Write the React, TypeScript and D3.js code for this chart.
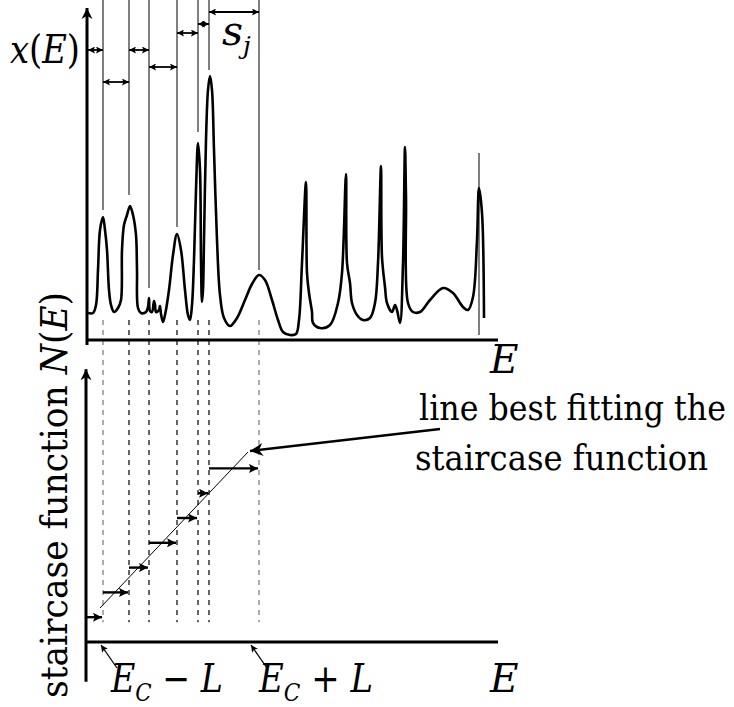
import React from "react";
import * as d3 from "d3";

// energy positions of the levels (marked by the thin lines)
const levelE = [15, 41, 61, 89, 110, 121, 171];
// where each marker line stops above its peak (intensity units)
const markStop = [130, 145, 52, 113, 208, 270, 70];
// height of the spacing arrow s_j between level j-1 and j
const spacingI = [290, 258, 290, 273, 307, 316, 328];
// lone marker on the last peak
const lastMarkE = 391;
const lastMarkI = [5, 187];

// the spectrum x(E)
const specE = [0, 5, 8, 10, 12, 15, 17, 19, 21, 23, 26, 30, 33, 34, 36, 39, 42, 45, 48, 49, 50, 53, 58, 60, 61, 62, 64, 66, 67, 68, 71, 72, 73, 75, 77, 81, 85, 89, 93, 97, 100, 102, 104, 106, 108, 110, 112, 113, 114, 115, 116, 118, 120, 122, 124, 126, 129, 132, 136, 142, 149, 157, 164, 171, 177, 184, 190, 195, 202, 208, 211, 214, 218, 219, 221, 224, 225, 232, 242, 250, 254, 258, 259, 262, 264, 269, 275, 282, 287, 290, 293, 294, 297, 299, 304, 307, 309, 312, 315, 317, 318, 320, 325, 332, 342, 355, 365, 375, 380, 385, 389, 391, 394, 396];
const specI = [27, 27, 35, 70, 110, 123, 110, 90, 50, 35, 28, 32, 40, 90, 115, 125, 134, 125, 105, 70, 32, 27, 28, 33, 42, 29, 28, 39, 35, 28, 30, 34, 26, 18, 25, 50, 85, 106, 90, 50, 25, 20, 35, 80, 150, 197, 170, 80, 38, 50, 100, 200, 250, 264, 250, 190, 100, 45, 22, 14, 22, 40, 56, 65, 60, 40, 20, 8, 5, 6, 20, 77, 158, 67, 47, 28, 17, 12, 15, 37, 67, 166, 77, 57, 37, 25, 20, 22, 37, 77, 174, 83, 53, 37, 28, 35, 30, 17, 77, 193, 143, 37, 28, 28, 40, 52, 47, 33, 30, 43, 100, 152, 127, 22];

// staircase N(E)
const stairN = [1, 2, 3, 4, 5, 6, 7];
const fitE = [12, 160];
const fitN = [1.37, 7.66];
const windowE = [13, 163]; // E_C - L, E_C + L
const calloutE = [352, 162];
const calloutN = [8.59, 7.7];

const serif = { fontFamily: "DejaVu Serif, serif" };

export default function App() {
  const x = d3.scaleLinear().domain([0, 410]).range([88, 498]);
  const yI = d3.scaleLinear().domain([0, 332]).range([340, 8]);
  const yN = d3.scaleLinear().domain([0, 10]).range([642, 394]);

  const spec = d3
    .line<number>()
    .x((_, i) => x(specE[i]))
    .y((d) => yI(d))
    .curve(d3.curveCatmullRom.alpha(0.5));

  const it = { fontStyle: "italic" as const };
  const fit = { lengthAdjust: "spacingAndGlyphs" as const };

  return (
    <svg width={734} height={707} style={{ position: "absolute", left: 0, top: 0, background: "#fff" }}>
      <defs>
        <marker id="axh" markerUnits="userSpaceOnUse" viewBox="0 0 10 10" refX="10" refY="5" markerWidth="11" markerHeight="15" orient="auto">
          <path d="M0,0 L10,5 L0,10 L3,5 z" fill="#000" />
        </marker>
        <marker id="sm" markerUnits="userSpaceOnUse" viewBox="0 0 10 10" refX="10" refY="5" markerWidth="7" markerHeight="7" orient="auto-start-reverse">
          <path d="M0,0 L10,5 L0,10 L2,5 z" fill="#000" />
        </marker>
        <marker id="st" markerUnits="userSpaceOnUse" viewBox="0 0 10 10" refX="10" refY="5" markerWidth="11" markerHeight="9" orient="auto">
          <path d="M0,0 L10,5 L0,10 L2,5 z" fill="#000" />
        </marker>
        <marker id="big" markerUnits="userSpaceOnUse" viewBox="0 0 10 10" refX="10" refY="5" markerWidth="16" markerHeight="13" orient="auto">
          <path d="M0,0 L10,5 L0,10 L3,5 z" fill="#000" />
        </marker>
        <marker id="tiny" markerUnits="userSpaceOnUse" viewBox="0 0 10 10" refX="10" refY="5" markerWidth="8" markerHeight="7" orient="auto">
          <path d="M0,0 L10,5 L0,10 L2,5 z" fill="#000" />
        </marker>
      </defs>

      {/* upper panel: marker lines */}
      {levelE.map((e, i) => (
        <line key={"m" + i} x1={x(e)} x2={x(e)} y1={yI(340)} y2={yI(markStop[i])} stroke="#000" strokeWidth={1} />
      ))}
      <line x1={x(lastMarkE)} x2={x(lastMarkE)} y1={yI(lastMarkI[1])} y2={yI(lastMarkI[0])} stroke="#000" strokeWidth={1} />

      {/* spacings s_j */}
      {levelE.map((e, i) => (
        <line
          key={"s" + i}
          x1={x(i === 0 ? 0 : levelE[i - 1])}
          x2={x(e)}
          y1={yI(spacingI[i])}
          y2={yI(spacingI[i])}
          stroke="#000"
          strokeWidth={1.8}
          markerStart="url(#sm)"
          markerEnd="url(#sm)"
        />
      ))}

      {/* dashed guides through both panels */}
      {levelE.map((e, i) => (
        <line
          key={"d" + i}
          x1={x(e)}
          x2={x(e)}
          y1={yI(20)}
          y2={yN(0.8)}
          stroke={i === 0 || i === levelE.length - 1 ? "#777" : "#000"}
          strokeWidth={1.2}
          strokeDasharray="5,5"
        />
      ))}

      <path d={spec(specI) || ""} fill="none" stroke="#000" strokeWidth={2.6} strokeLinejoin="round" />

      {/* upper axes */}
      <line x1={x(-1)} x2={x(-1)} y1={yI(-5)} y2={yI(332)} stroke="#000" strokeWidth={3} markerEnd="url(#axh)" />
      <line x1={x(-1)} x2={x(410)} y1={yI(0)} y2={yI(0)} stroke="#000" strokeWidth={3} />

      {/* lower panel: staircase steps */}
      {stairN.map((n, i) => (
        <line
          key={"n" + i}
          x1={x(i === 0 ? -1 : levelE[i - 1])}
          x2={x(levelE[i]) - 1}
          y1={yN(n)}
          y2={yN(n)}
          stroke="#000"
          strokeWidth={2.4}
          markerEnd="url(#st)"
        />
      ))}
      <line x1={x(fitE[0])} x2={x(fitE[1])} y1={yN(fitN[0])} y2={yN(fitN[1])} stroke="#000" strokeWidth={1} />
      <line x1={x(calloutE[0])} x2={x(calloutE[1])} y1={yN(calloutN[0])} y2={yN(calloutN[1])} stroke="#000" strokeWidth={2.4} markerEnd="url(#big)" />

      {/* lower axes */}
      <line x1={x(-2)} x2={x(-2)} y1={yN(-1.6)} y2={yN(11)} stroke="#000" strokeWidth={3} markerEnd="url(#axh)" />
      <line x1={x(-2)} x2={x(410)} y1={yN(0)} y2={yN(0)} stroke="#000" strokeWidth={3} />
      {windowE.map((e, i) => (
        <line key={"w" + i} x1={x(e) + 16} x2={x(e)} y1={yN(0) + 26} y2={yN(0) + 3} stroke="#000" strokeWidth={1.3} markerEnd="url(#tiny)" />
      ))}

      {/* labels */}
      <g style={serif}>
        <text x={10} y={63} fontSize={39} textLength={70} {...fit}>
          <tspan {...it}>x</tspan>(<tspan {...it}>E</tspan>)
        </text>
        <text x={222} y={45} fontSize={41} {...it}>
          s<tspan fontSize={25} dy={9}>j</tspan>
        </text>
        <text x={490} y={373} fontSize={39} {...it}>
          E
        </text>
        <text x={490} y={692} fontSize={39} {...it}>
          E
        </text>
        <text x={111} y={692} fontSize={39} textLength={112} {...fit}>
          <tspan {...it}>E</tspan>
          <tspan {...it} fontSize={25} dy={9}>C</tspan>
          <tspan dy={-9}> − </tspan>
          <tspan {...it}>L</tspan>
        </text>
        <text x={259} y={692} fontSize={39} textLength={114} {...fit}>
          <tspan {...it}>E</tspan>
          <tspan {...it} fontSize={25} dy={9}>C</tspan>
          <tspan dy={-9}> + </tspan>
          <tspan {...it}>L</tspan>
        </text>
        <text transform="translate(67,698) rotate(-90)" fontSize={38} textLength={406} {...fit}>
          staircase function <tspan {...it}>N</tspan>(<tspan {...it}>E</tspan>)
        </text>
        <text x={419} y={420} fontSize={36} textLength={307} {...fit}>
          line best fitting the
        </text>
        <text x={415} y={470} fontSize={36} textLength={293} {...fit}>
          staircase function
        </text>
      </g>
    </svg>
  );
}
